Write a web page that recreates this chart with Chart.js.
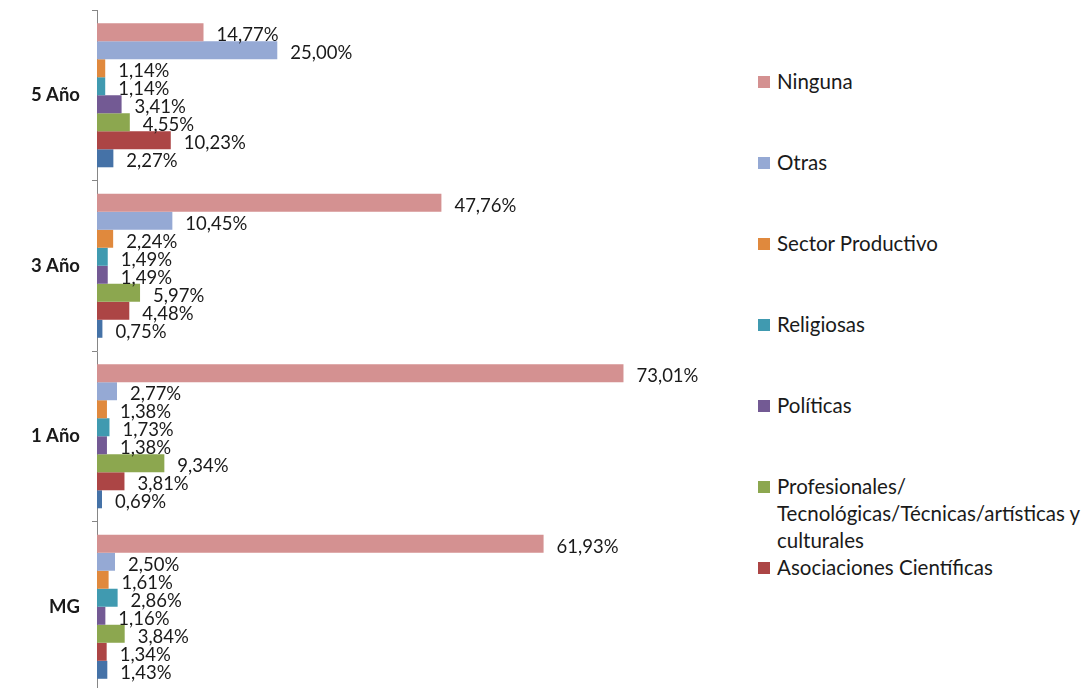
<!DOCTYPE html>
<html>
<head>
<meta charset="utf-8">
<script src="https://cdn.jsdelivr.net/npm/chart.js@4/dist/chart.umd.min.js"></script>
<style>
  html, body { margin: 0; padding: 0; background: #fff; overflow: hidden; }
  #wrap { position: absolute; left: 0; top: 0; width: 746px; height: 702px; }
  #legend { position: absolute; left: 757px; top: 0; font-family: Lato, "Noto Sans", sans-serif; font-size: 20.5px; color: #1a1a1a; }
  .item { position: absolute; left: 0; width: 330px; line-height: 27px; }
  .box { position: absolute; left: 1px; top: 8px; width: 12px; height: 12px; }
  .txt { margin-left: 20px; display: block; }
</style>
</head>
<body>
<div id="wrap"><canvas id="chart"></canvas></div>
<div id="legend"></div>
<script>
document.addEventListener("DOMContentLoaded", function () {
    // Categorías (de arriba hacia abajo)
    var categorias = ["5 Año", "3 Año", "1 Año", "MG"];

    // Series
    var nombres = ["Ninguna", "Otras", "Sector Productivo", "Religiosas", "Políticas",
        "Profesionales/ Tecnológicas/Técnicas/artísticas y culturales", "Asociaciones Científicas", ""];
    var colores = ["#D49191", "#95A9D4", "#E0893D", "#409AB0", "#735A94", "#8CA74F", "#AC4545", "#4572A7"];

    var ninguna = [14.77, 47.76, 73.01, 61.93];
    var otras = [25.00, 10.45, 2.77, 2.50];
    var sectorProductivo = [1.14, 2.24, 1.38, 1.61];
    var religiosas = [1.14, 1.49, 1.73, 2.86];
    var politicas = [3.41, 1.49, 1.38, 1.16];
    var profesionales = [4.55, 5.97, 9.34, 3.84];
    var asociaciones = [10.23, 4.48, 3.81, 1.34];
    var serie8 = [2.27, 0.75, 0.69, 1.43];

    var valores = [ninguna, otras, sectorProductivo, religiosas, politicas, profesionales, asociaciones, serie8];

    var datasets = valores.map(function (v, i) {
        return {
            label: nombres[i],
            data: v,
            backgroundColor: colores[i],
            borderWidth: 0,
            barPercentage: 1,
            categoryPercentage: 0.845
        };
    });

    // Etiquetas de valor al final de cada barra
    var etiquetas = {
        id: "etiquetas",
        afterDatasetsDraw: function (chart) {
            var ctx = chart.ctx;
            ctx.save();
            ctx.font = "18.5px Lato, 'Noto Sans', sans-serif";
            ctx.fillStyle = "#1a1a1a";
            ctx.textAlign = "left";
            ctx.textBaseline = "middle";
            chart.data.datasets.forEach(function (ds, i) {
                chart.getDatasetMeta(i).data.forEach(function (bar, j) {
                    var txt = ds.data[j].toFixed(2).replace(".", ",") + "%";
                    ctx.fillText(txt, bar.x + 13, bar.y + 3);
                });
            });
            ctx.restore();
        }
    };

    var ctx = document.getElementById("chart").getContext("2d");
    var chart = new Chart(ctx, {
        type: "bar",
        data: { labels: categorias, datasets: datasets },
        options: {
            indexAxis: "y",
            responsive: true,
            maintainAspectRatio: false,
            animation: false,
            layout: { padding: { top: 10, bottom: 10, left: 0, right: 0 } },
            plugins: {
                legend: { display: false },
                tooltip: { enabled: false }
            },
            scales: {
                x: { display: false, min: 0, max: 90 },
                y: {
                    afterFit: function (s) {
                        s.width = 97;
                        s.paddingTop = 0;
                        s.paddingBottom = 0;
                    },
                    border: { display: true, color: "#868686", width: 1 },
                    grid: { display: true, drawOnChartArea: false, drawTicks: true, tickLength: 5, color: "#868686" },
                    ticks: {
                        padding: 12,
                        color: "#1a1a1a",
                        font: { family: "Lato, 'Noto Sans', sans-serif", size: 18.5, weight: "bold" }
                    }
                }
            }
        },
        plugins: [etiquetas]
    });

    // Leyenda
    var leg = document.getElementById("legend");
    nombres.forEach(function (n, i) {
        if (!n) return;
        var it = document.createElement("div");
        it.className = "item";
        it.style.top = (68 + i * 81) + "px";
        var b = document.createElement("span");
        b.className = "box";
        b.style.background = colores[i];
        var t = document.createElement("span");
        t.className = "txt";
        t.textContent = n;
        it.appendChild(b);
        it.appendChild(t);
        leg.appendChild(it);
    });
});
</script>
</body>
</html>
